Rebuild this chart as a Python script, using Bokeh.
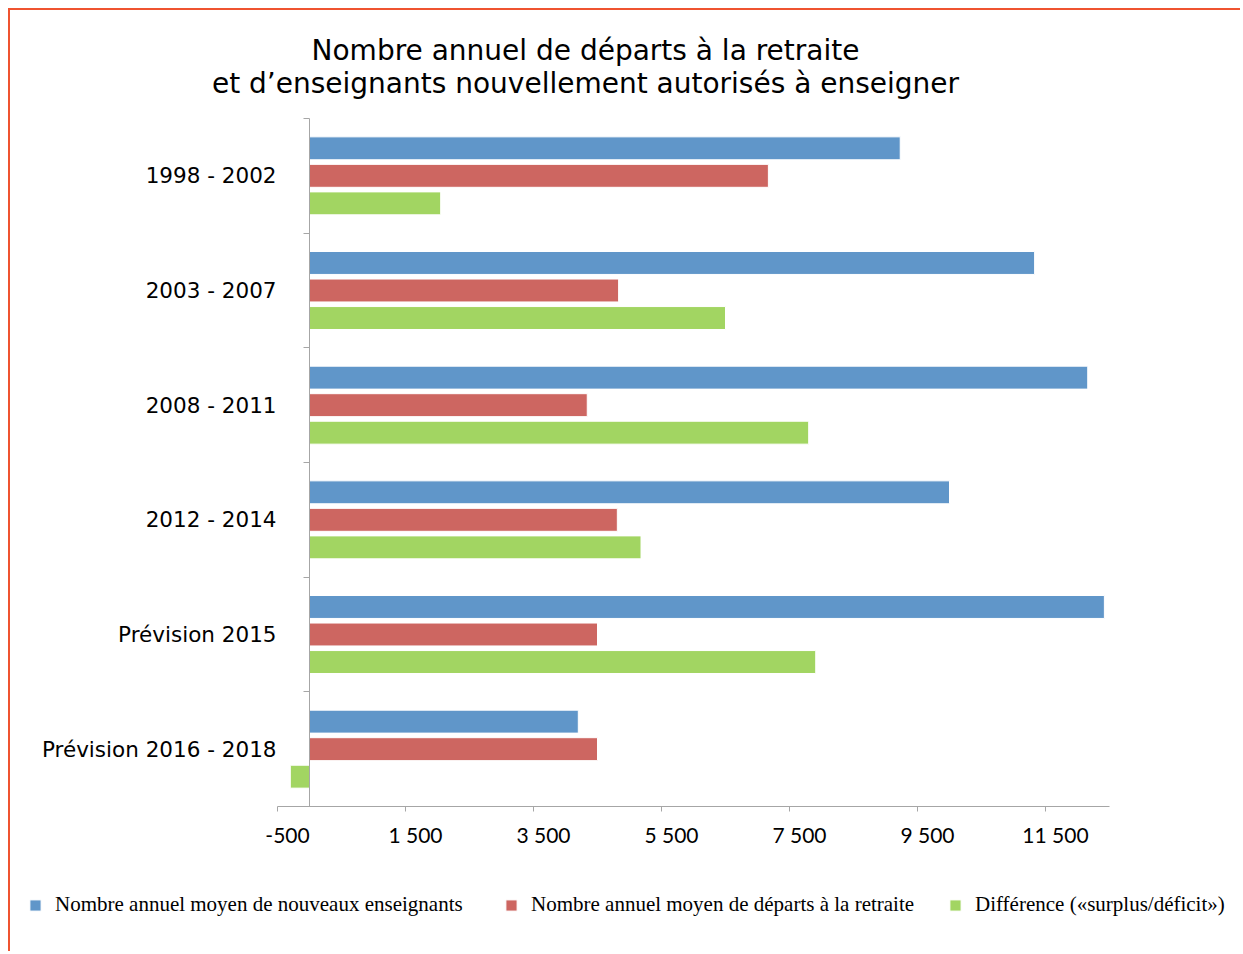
from bokeh.plotting import figure
from bokeh.models import (ColumnDataSource, Range1d, FixedTicker, Legend, LegendItem,
                          LinearAxis, Label)
from bokeh.transform import dodge
from bokeh.embed import file_html
from bokeh.resources import INLINE

# ---- data ----
categories = ["1998 - 2002", "2003 - 2007", "2008 - 2011", "2012 - 2014",
              "Prévision 2015", "Prévision 2016 - 2018"]
nouveaux = [9230, 11330, 12160, 10000, 12420, 4200]
departs = [7170, 4830, 4340, 4810, 4500, 4500]
difference = [2050, 6500, 7800, 5180, 7910, -300]
x_ticks = [-500, 1500, 3500, 5500, 7500, 9500, 11500]
series_labels = ["Nombre annuel moyen de nouveaux enseignants",
                 "Nombre annuel moyen de départs à la retraite",
                 "Différence («surplus/déficit»)"]
title_lines = ["Nombre annuel de départs à la retraite",
               "et d\u2019enseignants nouvellement autorisés à enseigner"]

BLUE = "#6096C9"
RED = "#CD6661"
GREEN = "#A2D562"
AXIS_GRAY = "#A6A6A6"
BORDER = "#EF5330"

X_START, X_END = -500, 12500          # value extent of the x axis
N = len(categories)
Y_START, Y_END = -0.5, N - 0.5        # category extent

# layout (canvas pixels) of the plotting area inside the whole canvas
W, H = 1232, 943
PX_L, PX_R, PX_T, PX_B = 267, 1099, 108, 796
LABEL_SHIFT_PX = 10                    # tick labels sit slightly right of their ticks

sx = (PX_R - PX_L) / (X_END - X_START)
sy = (PX_B - PX_T) / (Y_END - Y_START)
x_range = Range1d(X_START - PX_L / sx, X_END + (W - PX_R) / sx)
y_range = Range1d(Y_END + (H - PX_B) / sy, Y_START - PX_T / sy)   # inverted: first category on top

idx = list(range(N))
src = ColumnDataSource(dict(idx=idx, nouveaux=nouveaux, departs=departs,
                            difference=difference, zero=[0] * N))

p = figure(width=W, height=H, output_backend="svg", toolbar_location=None,
           x_range=x_range, y_range=y_range)
p.title = None
p.min_border = 0
p.min_border_left = p.min_border_right = p.min_border_top = p.min_border_bottom = 0
p.outline_line_color = None
p.xgrid.visible = False
p.ygrid.visible = False
p.background_fill_color = "white"
p.border_fill_color = "white"
p.styles = {"margin-left": "8px", "margin-top": "8px",
            "border-top": f"2px solid {BORDER}", "border-left": f"2px solid {BORDER}"}

fields = ["nouveaux", "departs", "difference"]
colors = [BLUE, RED, GREEN]
offsets = [-0.24, 0.0, 0.24]
bh = 0.2
renderers = [p.hbar(y=dodge("idx", off, range=p.y_range), left="zero", right=fld,
                    height=bh, source=src, fill_color=col, line_color="white", line_width=1)
             for fld, col, off in zip(fields, colors, offsets)]

# x axis: line + tick marks, limited to the value extent
xa = p.xaxis[0]
xa.fixed_location = Y_END
xa.bounds = (X_START, X_END)
xa.ticker = FixedTicker(ticks=x_ticks, minor_ticks=[])
xa.axis_line_color = AXIS_GRAY
xa.major_tick_line_color = AXIS_GRAY
xa.major_tick_out = 5
xa.major_tick_in = 0
xa.minor_tick_line_color = None
xa.major_label_text_font_size = "0px"
xa.major_label_text_color = None
xa.major_label_standoff = 0

# x tick labels
shift = LABEL_SHIFT_PX / sx
p.extra_x_ranges = {"lbl": Range1d(x_range.start - shift, x_range.end - shift)}
xl = LinearAxis(x_range_name="lbl", fixed_location=Y_END,
                ticker=FixedTicker(ticks=x_ticks, minor_ticks=[]))
xl.major_label_overrides = {t: f"{t:,}".replace(",", " ") for t in x_ticks}
xl.axis_line_color = None
xl.major_tick_line_color = None
xl.minor_tick_line_color = None
xl.major_tick_out = 0
xl.major_tick_in = 0
xl.major_label_text_font = "Lato"
xl.major_label_text_font_size = "21px"
xl.major_label_text_color = "black"
xl.major_label_standoff = 15
p.add_layout(xl, "below")

# category labels (left edge of the plotting area)
ya = p.yaxis[0]
ya.fixed_location = X_START
ya.ticker = FixedTicker(ticks=idx, minor_ticks=[])
ya.major_label_overrides = {i: c for i, c in zip(idx, categories)}
ya.axis_line_color = None
ya.major_tick_line_color = None
ya.minor_tick_line_color = None
ya.major_tick_out = 0
ya.major_tick_in = 0
ya.major_label_text_font = "DejaVu Sans"
ya.major_label_text_font_size = "21.5px"
ya.major_label_text_color = "black"
ya.major_label_standoff = 1

# visible vertical axis line at x = 0 with ticks between categories
ya0 = LinearAxis(fixed_location=0, bounds=(Y_START, Y_END),
                 ticker=FixedTicker(ticks=[], minor_ticks=[i - 0.5 for i in range(N + 1)]))
ya0.axis_line_color = AXIS_GRAY
ya0.major_tick_line_color = None
ya0.major_label_text_color = None
ya0.major_label_text_font_size = "0px"
ya0.minor_tick_line_color = AXIS_GRAY
ya0.minor_tick_out = 6
ya0.minor_tick_in = 0
p.add_layout(ya0, "left")

# title (two centred lines)
for line, yy in zip(title_lines, [H - 40, H - 73]):
    p.add_layout(Label(x=575, y=yy, x_units="screen", y_units="screen", text=line,
                       text_align="center", text_baseline="middle",
                       text_font="DejaVu Sans", text_font_size="28px",
                       text_color="black"))

# legend: one item each, on one row at the bottom
for r, lab, lx in zip(renderers, series_labels, [18, 494, 938]):
    lg = Legend(items=[LegendItem(label=lab, renderers=[r])],
                location=(lx, 36), orientation="horizontal", padding=0, margin=0,
                border_line_color=None, background_fill_alpha=0,
                glyph_width=14, glyph_height=14, label_standoff=13,
                label_text_font="Liberation Serif", label_text_font_size="21px",
                label_text_color="black")
    p.add_layout(lg, "center")

open("out.html", "w").write(file_html(p, INLINE))
